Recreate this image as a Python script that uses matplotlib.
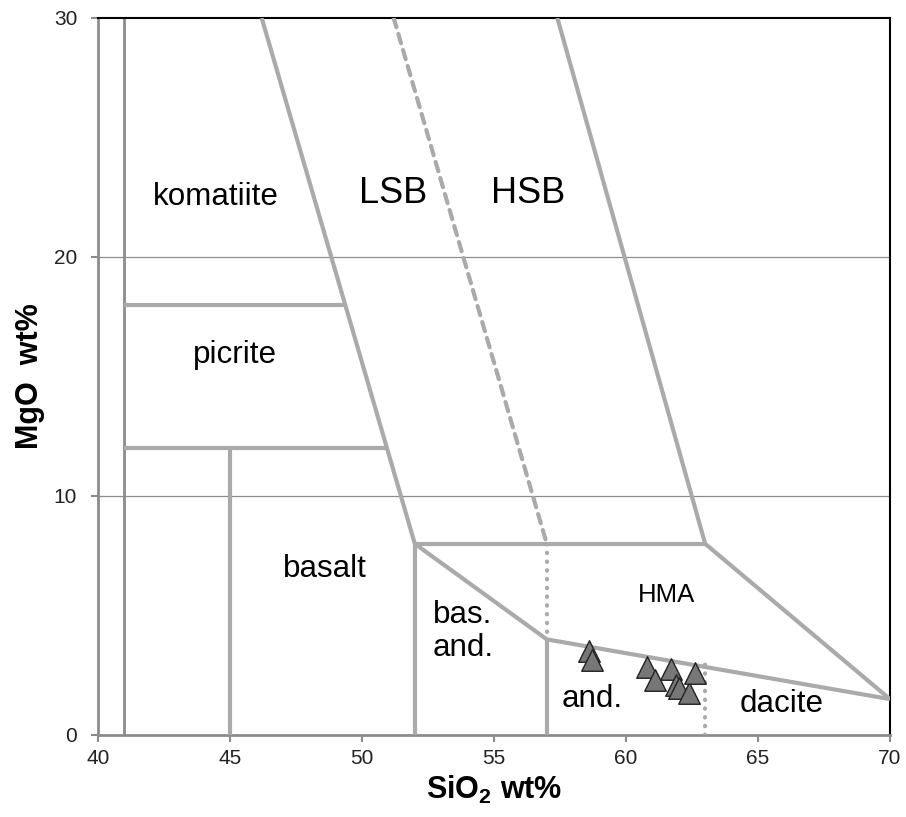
import matplotlib
matplotlib.use("Agg")
import matplotlib.pyplot as plt

plt.rcParams['font.family'] = ['Liberation Sans', 'DejaVu Sans']
plt.rcParams['mathtext.fontset'] = 'custom'
plt.rcParams['mathtext.rm'] = 'Liberation Sans'
plt.rcParams['mathtext.bf'] = 'Liberation Sans:bold'

# Sample data (SiO2, MgO)
sio2 = [58.6, 58.7, 60.8, 61.1, 61.7, 61.9, 62.0, 62.4, 62.6]
mgo = [3.5, 3.15, 2.85, 2.3, 2.75, 2.1, 1.95, 1.75, 2.6]

# Field boundaries (x list, y list)
solid_lines = [
    ([52, 46.2], [8, 30]),          # LSB lower boundary
    ([57.4, 63, 70], [30, 8, 1.5]),  # HSB upper boundary
    ([41, 49.36], [18, 18]),         # picrite top
    ([41, 50.95], [12, 12]),         # picrite bottom
    ([45, 45], [0, 12]),
    ([52, 63], [8, 8]),
    ([52, 52], [0, 8]),
    ([52, 57, 70], [8, 4, 1.5]),
    ([57, 57], [0, 4]),
]
dashed_line = ([51.2, 57], [30, 8])
dotted_lines = [([57, 57], [8, 4]), ([63, 63], [0, 3.0])]

# field names: text, x (centre), y (baseline), size
labels = [
    ("komatiite", 44.45, 22.18, 22.6),
    ("LSB", 51.17, 22.25, 26),
    ("HSB", 56.30, 22.25, 26),
    ("picrite", 45.19, 15.56, 22.6),
    ("basalt", 48.60, 6.62, 22.6),
    ("HMA", 61.52, 5.55, 18.5),
    ("and.", 58.73, 1.16, 22.6),
    ("dacite", 65.89, 0.975, 22.6),
]
basand_label = ("bas.\nand.", 52.69, 3.3, 22.6)

fig = plt.figure(figsize=(9.06, 8.17), dpi=100)
ax = fig.add_axes([0.1082, 0.1004, 0.8741, 0.8776])
ax.set_xlim(40, 70)
ax.set_ylim(0, 30)

for y in [10, 20]:
    ax.axhline(y, color='#8c8c8c', lw=0.9, zorder=1)

ax.plot([41, 41], [0, 30], color='#8c8c8c', lw=2.0, zorder=2)

lc = '#aaaaaa'
for xs, ys in solid_lines:
    ax.plot(xs, ys, color=lc, lw=3.0, solid_capstyle='butt', solid_joinstyle='miter', zorder=3)
ax.plot(*dashed_line, color=lc, lw=3.0, linestyle=(0, (2.3, 1.7)), dash_capstyle='round', zorder=3)
for xs, ys in dotted_lines:
    ax.plot(xs, ys, color=lc, lw=3.0, linestyle=(0, (0.1, 2.0)), dash_capstyle='round', zorder=3)

ax.scatter(sio2, mgo, marker='^', s=240, facecolor='#777777', edgecolor='#222222',
           linewidth=1.0, zorder=5)

for t, x, y, fs in labels:
    ax.text(x, y, t, fontsize=fs, ha='center', va='baseline', zorder=4)
t, x, y, fs = basand_label
ax.text(x, y, t, fontsize=fs, ha='left', va='baseline', linespacing=1.15, zorder=4)

ax.set_xticks([40, 45, 50, 55, 60, 65, 70])
ax.set_yticks([0, 10, 20, 30])
ax.tick_params(axis='both', labelsize=15, color='#8c8c8c', width=1.5, length=5,
               labelcolor='#222222')
ax.tick_params(axis='x', direction='out', pad=5)
ax.tick_params(axis='y', direction='out', length=5, pad=10)

for s in ['left', 'bottom']:
    ax.spines[s].set_color('#8c8c8c')
    ax.spines[s].set_linewidth(2.0)
for s in ['top', 'right']:
    ax.spines[s].set_color('black')
    ax.spines[s].set_linewidth(1.5)

ax.set_xlabel(r"SiO$_\mathbf{2}$ wt%", fontsize=22, fontweight='bold', labelpad=4)
ax.set_ylabel("MgO  wt%", fontsize=22, fontweight='bold', labelpad=6)

fig.savefig("out.png", dpi=100)
